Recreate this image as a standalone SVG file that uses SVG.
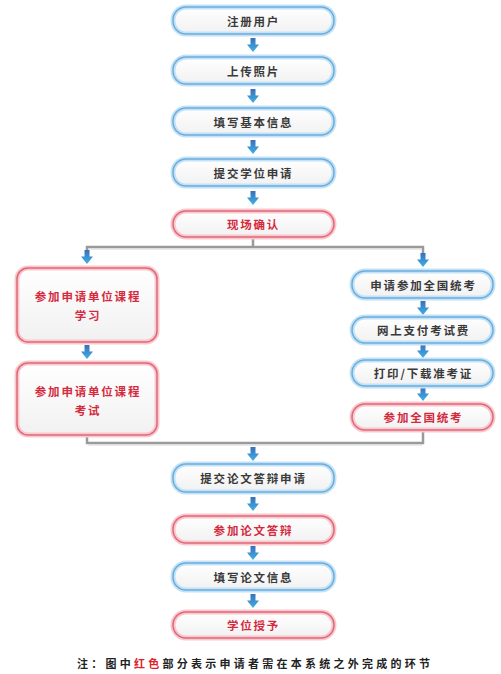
<svg xmlns="http://www.w3.org/2000/svg" xmlns:xlink="http://www.w3.org/1999/xlink" width="501" height="674" viewBox="0 0 501 674">
<style>
.bg{fill:url(#fillg)}
.bglow{fill:none;stroke:#c4e2f5;stroke-width:5}
.bline{fill:none;stroke:#6aaddf;stroke-width:1.5}
.rglow{fill:none;stroke:#f8c8ce;stroke-width:5}
.rline{fill:none;stroke:#e06878;stroke-width:1.5}
.t{font-family:"Noto Sans CJK SC","Noto Sans",sans-serif;font-size:11.5px;font-weight:bold;letter-spacing:1.8px;text-anchor:middle;dominant-baseline:central}
.tb{fill:#3a3a3a}
.tr{fill:#d42a3e}
.conn{fill:none;stroke:#9a9a9a;stroke-width:2.5}
.connhi{fill:none;stroke:#d6d6d6;stroke-width:1}
</style>
<defs>
<linearGradient id="fillg" x1="0" y1="0" x2="0" y2="1">
<stop offset="0" stop-color="#ffffff"/>
<stop offset="1" stop-color="#f1f1f1"/>
</linearGradient>
<linearGradient id="arrg" x1="0" y1="0" x2="0" y2="1">
<stop offset="0" stop-color="#3a6fb8"/>
<stop offset="1" stop-color="#3db2e8"/>
</linearGradient>
<path id="arr" d="M-2.5,0 H2.5 V6.5 H6 L0,14 L-6,6.5 H-2.5 Z" fill="url(#arrg)"/>
</defs>
<rect width="501" height="674" fill="#ffffff"/>

<g id="connectors">
<line class="conn" x1="253" y1="238" x2="253" y2="247"/>
<polyline class="conn" points="87,262 87,247 423,247 423,262"/>
<polyline class="connhi" points="88,249 422,249"/>
<polyline class="conn" points="87,436 87,443 423,443 423,431"/>
<polyline class="connhi" points="88,445 422,445"/>
<use xlink:href="#arr" x="253" y="38"/>
<use xlink:href="#arr" x="253" y="89"/>
<use xlink:href="#arr" x="253" y="140"/>
<use xlink:href="#arr" x="253" y="191"/>
<use xlink:href="#arr" x="87" y="250"/>
<use xlink:href="#arr" x="423" y="253"/>
<use xlink:href="#arr" x="87" y="345"/>
<use xlink:href="#arr" x="423" y="301"/>
<use xlink:href="#arr" x="423" y="344"/>
<use xlink:href="#arr" x="423" y="387"/>
<use xlink:href="#arr" x="253" y="447"/>
<use xlink:href="#arr" x="253" y="497"/>
<use xlink:href="#arr" x="253" y="546"/>
<use xlink:href="#arr" x="253" y="594"/>
</g>

<g id="n1">
<rect class="bg" x="173" y="7" width="161" height="27" rx="13"/>
<rect class="bglow" x="173" y="7" width="161" height="27" rx="13"/>
<rect class="bline" x="173" y="7" width="161" height="27" rx="13"/>
<text class="t tb" x="253.5" y="20.5">注册用户</text>
</g>
<g id="n2">
<rect class="bg" x="173" y="57" width="161" height="27" rx="13"/>
<rect class="bglow" x="173" y="57" width="161" height="27" rx="13"/>
<rect class="bline" x="173" y="57" width="161" height="27" rx="13"/>
<text class="t tb" x="253.5" y="70.5">上传照片</text>
</g>
<g id="n3">
<rect class="bg" x="173" y="108" width="161" height="27" rx="13"/>
<rect class="bglow" x="173" y="108" width="161" height="27" rx="13"/>
<rect class="bline" x="173" y="108" width="161" height="27" rx="13"/>
<text class="t tb" x="253.5" y="121.5">填写基本信息</text>
</g>
<g id="n4">
<rect class="bg" x="173" y="159" width="161" height="27" rx="13"/>
<rect class="bglow" x="173" y="159" width="161" height="27" rx="13"/>
<rect class="bline" x="173" y="159" width="161" height="27" rx="13"/>
<text class="t tb" x="253.5" y="172.5">提交学位申请</text>
</g>
<g id="n5">
<rect class="bg" x="173" y="211" width="161" height="26" rx="13"/>
<rect class="rglow" x="173" y="211" width="161" height="26" rx="13"/>
<rect class="rline" x="173" y="211" width="161" height="26" rx="13"/>
<text class="t tr" x="253.5" y="224">现场确认</text>
</g>

<g id="l1">
<rect class="bg" x="17" y="268" width="140" height="74" rx="11"/>
<rect class="rglow" x="17" y="268" width="140" height="74" rx="11"/>
<rect class="rline" x="17" y="268" width="140" height="74" rx="11"/>
<text class="t tr" x="88" y="296">参加申请单位课程</text>
<text class="t tr" x="88" y="315">学习</text>
</g>
<g id="l2">
<rect class="bg" x="17" y="363" width="140" height="72" rx="11"/>
<rect class="rglow" x="17" y="363" width="140" height="72" rx="11"/>
<rect class="rline" x="17" y="363" width="140" height="72" rx="11"/>
<text class="t tr" x="88" y="391">参加申请单位课程</text>
<text class="t tr" x="88" y="410">考试</text>
</g>

<g id="r1">
<rect class="bg" x="352" y="271" width="141" height="27" rx="13"/>
<rect class="bglow" x="352" y="271" width="141" height="27" rx="13"/>
<rect class="bline" x="352" y="271" width="141" height="27" rx="13"/>
<text class="t tb" x="423.5" y="284.5">申请参加全国统考</text>
</g>
<g id="r2">
<rect class="bg" x="352" y="317" width="141" height="26" rx="13"/>
<rect class="bglow" x="352" y="317" width="141" height="26" rx="13"/>
<rect class="bline" x="352" y="317" width="141" height="26" rx="13"/>
<text class="t tb" x="423.5" y="330">网上支付考试费</text>
</g>
<g id="r3">
<rect class="bg" x="352" y="360" width="141" height="26" rx="13"/>
<rect class="bglow" x="352" y="360" width="141" height="26" rx="13"/>
<rect class="bline" x="352" y="360" width="141" height="26" rx="13"/>
<text class="t tb" x="423.5" y="373">打印/下载准考证</text>
</g>
<g id="r4">
<rect class="bg" x="352" y="404" width="141" height="26" rx="13"/>
<rect class="rglow" x="352" y="404" width="141" height="26" rx="13"/>
<rect class="rline" x="352" y="404" width="141" height="26" rx="13"/>
<text class="t tr" x="423.5" y="417">参加全国统考</text>
</g>

<g id="n6">
<rect class="bg" x="173" y="464" width="161" height="28" rx="13"/>
<rect class="bglow" x="173" y="464" width="161" height="28" rx="13"/>
<rect class="bline" x="173" y="464" width="161" height="28" rx="13"/>
<text class="t tb" x="253.5" y="478">提交论文答辩申请</text>
</g>
<g id="n7">
<rect class="bg" x="173" y="516" width="161" height="27" rx="13"/>
<rect class="rglow" x="173" y="516" width="161" height="27" rx="13"/>
<rect class="rline" x="173" y="516" width="161" height="27" rx="13"/>
<text class="t tr" x="253.5" y="529.5">参加论文答辩</text>
</g>
<g id="n8">
<rect class="bg" x="173" y="563" width="161" height="27" rx="13"/>
<rect class="bglow" x="173" y="563" width="161" height="27" rx="13"/>
<rect class="bline" x="173" y="563" width="161" height="27" rx="13"/>
<text class="t tb" x="253.5" y="576.5">填写论文信息</text>
</g>
<g id="n9">
<rect class="bg" x="173" y="612" width="161" height="26" rx="13"/>
<rect class="rglow" x="173" y="612" width="161" height="26" rx="13"/>
<rect class="rline" x="173" y="612" width="161" height="26" rx="13"/>
<text class="t tr" x="253.5" y="625">学位授予</text>
</g>

<g id="note">
<text x="77" y="663" font-family="Noto Sans CJK SC,Noto Sans,sans-serif" font-size="11" font-weight="bold" dominant-baseline="central" fill="#222222" textLength="353" lengthAdjust="spacing">注：图中<tspan fill="#e0202a">红色</tspan>部分表示申请者需在本系统之外完成的环节</text>
</g>
</svg>
